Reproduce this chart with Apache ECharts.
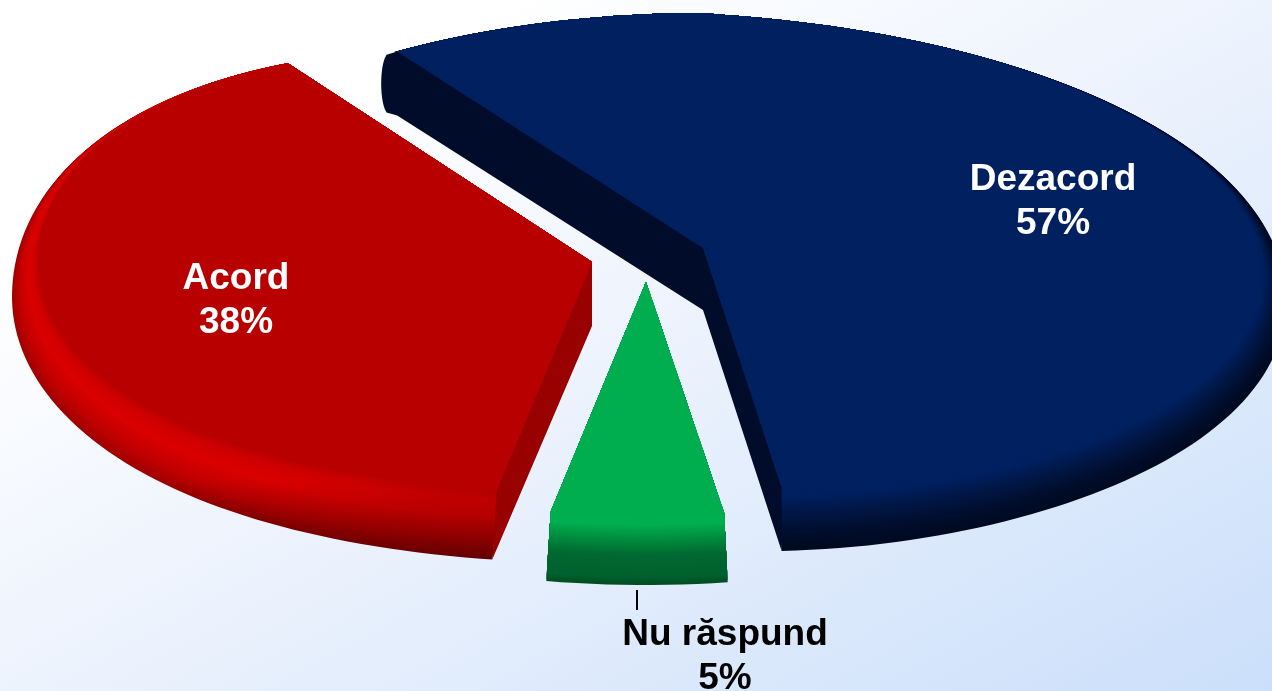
<!DOCTYPE html>
<html><head><meta charset="utf-8">
<style>html,body{margin:0;padding:0;background:#fff}#c{width:1272px;height:691px}</style>
<script src="https://cdn.jsdelivr.net/npm/echarts@6/dist/echarts.min.js"></script>
</head><body><div id="c"></div>
<script>
const categories = ['Dezacord', 'Nu răspund', 'Acord'];
const values = [57, 5, 38];

const startAngle = -33.3;
const looks = [
  { ax:703, ay:248, R:557, Bb:235, Bf:237, off:32, wall:62, lx:1053, ly:202, tc:'#ffffff', wallC:'#000c29',
    rightDrop:22, backLift:0, frontBulge:0, pinchFront:true,
    walls:[0,1], darkFrom:null, stops:[[0,'#000a22'],[0.2,'#000c29'],[0.55,'#001643'],[0.85,'#002060'],[1,'#002060']] },
  { ax:646, ay:282, R:554, Bb:233, Bf:233, off:35, wall:0, lx:725, ly:657, tc:'#000000',
    rightDrop:0, backLift:0, frontBulge:0, pinchFront:false,
    walls:[], darkFrom:null, tick:[637,590,637,610], stops:[[0,'#005022'],[0.1,'#006030'],[0.42,'#006a30'],[0.65,'#008f40'],[0.85,'#00b050'],[1,'#00ae4f']] },
  { ax:592, ay:262, R:554, Bb:235, Bf:231, off:35, wall:64, lx:236, ly:301, tc:'#ffffff', wallC:'#990000',
    rightDrop:0, backLift:30, frontBulge:20, pinchFront:false,
    walls:[0], darkFrom:480, stops:[[0,'#a00000'],[0.25,'#c00000'],[0.6,'#da0000'],[0.85,'#d00000'],[1,'#b90000']] }
];
const LAYERS = 30, RIM = 26, DARK = 0.6;

function hex(c){return [1,3,5].map(i=>parseInt(c.substr(i,2),16));}
function mix(a,b,f){return a.map((v,i)=>v+(b[i]-v)*f);}
function css(c){return 'rgb('+c.map(Math.round).join(',')+')';}
function rimColor(stops,t){
  for(let i=1;i<stops.length;i++){
    if(t<=stops[i][0]){
      return mix(hex(stops[i-1][1]),hex(stops[i][1]),(t-stops[i-1][0])/(stops[i][0]-stops[i-1][0]));
    }
  }
  return hex(stops[stops.length-1][1]);
}
function pt(L,deg,t){
  const a=deg*Math.PI/180, u=Math.sin(a), v=-Math.cos(a), k=1-t;
  const au=Math.abs(u);
  const B=v>0?L.Bf:L.Bb;
  const grow=RIM*(v<0?1-v*v:(L.pinchFront?1-v*v*v*v:1));
  let y=L.ay+B*v;
  if(u>0) y+=L.rightDrop*Math.pow(u,0.8);
  if(v<0) y-=L.backLift*Math.max(0,(au-0.5)/0.5)*(-v);
  if(v>0) y+=L.frontBulge*u*u*v;
  const lift=v<0?(1+v)*(1+v):1+v;
  return [L.ax+(L.R+grow*k)*u, y+k*L.off*lift];
}
const total = values.reduce((a,b)=>a+b,0);
const cum = values.map((_,i)=>values.slice(0,i).reduce((a,b)=>a+b,0));

function renderSlice(params, api){
  const i=params.dataIndex, L=looks[i], val=api.value(0);
  const a0=startAngle+cum[i]/total*360, a1=a0+val/total*360;
  const A=[L.ax,L.ay], A2=[L.ax,L.ay+L.wall];
  const kids=[];
  const steps=Math.max(6,Math.round((a1-a0)/1.5));
  const Fs=pt(L,a0,1), Fe=pt(L,a1,1);
  for(let l=0;l<=LAYERS;l++){
    const t=l/LAYERS, pts=[A,Fs];
    for(let s=0;s<=steps;s++) pts.push(pt(L,a0+(a1-a0)*s/steps,t));
    pts.push(Fe);
    const c=rimColor(L.stops,t);
    const fill=(t===1||L.darkFrom===null)?css(c):{type:'linear',x:0,y:L.darkFrom,x2:0,y2:565,global:true,
      colorStops:[{offset:0,color:css(c)},{offset:1,color:css(c.map(v=>v*DARK))}]};
    kids.push({type:'polygon',shape:{points:pts},style:{fill:fill,stroke:null}});
  }
  L.walls.forEach(w=>{
    const deg=w===0?a0:a1;
    const isBack=Math.cos(deg*Math.PI/180)>0;
    const F=pt(L,deg,1), pts=[A,F];
    for(let s=1;s<=20;s++){
      const f=s/20;
      if(isBack){
        pts.push([F[0]-16*Math.pow(Math.sin(Math.PI*f),0.22), F[1]+L.wall*f+2*f]);
      } else {
        pts.push(pt(L,deg,1-f));
      }
    }
    pts.push(A2);
    kids.push({type:'polygon',shape:{points:pts},style:{fill:L.wallC,stroke:null}});
  });
  const face=[A];
  for(let s=0;s<=steps;s++) face.push(pt(L,a0+(a1-a0)*s/steps,1));
  kids.push({type:'polygon',shape:{points:face},style:{fill:L.stops[L.stops.length-1][1],stroke:null}});
  if(L.tick){
    kids.push({type:'line',shape:{x1:L.tick[0],y1:L.tick[1],x2:L.tick[2],y2:L.tick[3]},style:{stroke:'#000',lineWidth:2}});
  }
  kids.push({type:'text',style:{text:categories[i]+'\n'+val+'%',x:L.lx,y:L.ly,align:'center',verticalAlign:'middle',
    font:'bold 37px "Liberation Sans", Arial, sans-serif',lineHeight:44,fill:L.tc}});
  return {type:'group',children:kids};
}

const chart=echarts.init(document.getElementById('c'),null,{renderer:'canvas',width:1272,height:691});
chart.setOption({
  animation:false,
  backgroundColor:{type:'linear',x:0,y:0,x2:579,y2:1067,global:true,colorStops:[
    {offset:0,color:'#ffffff'},{offset:0.2,color:'#ffffff'},{offset:0.5,color:'#edf3fd'},{offset:1,color:'#cbdffa'}]},
  series:[{type:'custom',coordinateSystem:'none',renderItem:renderSlice,
    data:values.map((v,i)=>({name:categories[i],value:[v]})),silent:true}]
});
</script></body></html>
